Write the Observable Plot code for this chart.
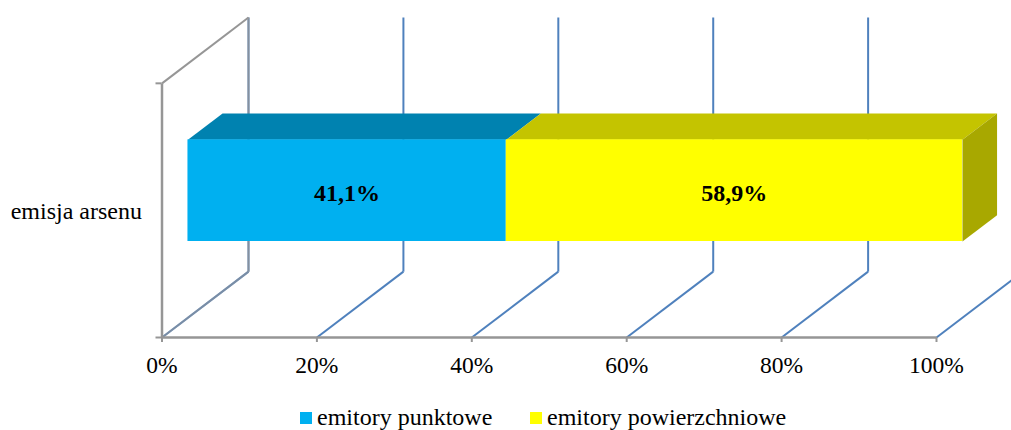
<!DOCTYPE html>
<html lang="pl">
<head>
<meta charset="utf-8">
<script src="https://cdn.jsdelivr.net/npm/d3@7"></script>
<script src="https://cdn.jsdelivr.net/npm/@observablehq/plot@0.6"></script>
<style>
  html, body { margin: 0; padding: 0; background: #fff; overflow: hidden; }
  svg { display: block; }
  #legend { position: relative; height: 35px; font: 24px "Liberation Serif", serif; color: #000; }
  .item { position: absolute; top: 8px; line-height: 28px; white-space: nowrap; }
  .sw { position: absolute; left: -17px; top: 9px; width: 12px; height: 12px; }
</style>
</head>
<body>
<div id="chart"></div>
<div id="legend"></div>
<script>
const categories = ["emisja arsenu"];
const seriesNames = ["emitory punktowe", "emitory powierzchniowe"];
const seriesValues = [41.1, 58.9];
const valueLabels = ["41,1%", "58,9%"];
const xTicks = [0, 20, 40, 60, 80, 100];

// Styles
const frontColors = ["#00b0f0", "#ffff00"];
const topColors = ["#0082b0", "#c4c400"];
const sideColor = "#a8a800";
const wallGray = "#969696";
const gridBlue = "#4f81bd";
const font = "Liberation Serif";

// Oblique projection of the 3D chart box, in data units
const depthX = 11.17, depthY = 0.259;
const px = (v, d) => v + d * depthX;
const py = (h, d) => h + d * depthY;
const barFront = 0.3, barBack = 0.7, barLow = 0.3, barHigh = 0.7;

const segments = [];
seriesValues.reduce((start, value, i) => {
  segments.push({i, start, end: start + value, label: valueLabels[i]});
  return start + value;
}, 0);

const poly = (corners, face) => corners.map(([v, h, d]) => ({x: px(v, d), y: py(h, d), face}));
const topFaces = i => {
  const s = segments[i];
  return poly([[s.start, barHigh, barFront], [s.end, barHigh, barFront], [s.end, barHigh, barBack], [s.start, barHigh, barBack]], "top" + i);
};
const endSeg = segments[segments.length - 1].end;
const sideFace = poly([[endSeg, barLow, barFront], [endSeg, barHigh, barFront], [endSeg, barHigh, barBack], [endSeg, barLow, barBack]], "side");

const plot = Plot.plot({
  width: 1011,
  height: 395,
  marginLeft: 161.5,
  marginRight: 75,
  marginTop: 17,
  marginBottom: 58,
  x: {domain: [0, 100], axis: null},
  y: {domain: [0, 1 + depthY], axis: null},
  style: {fontFamily: font, background: "#fff", color: "#000"},
  marks: [
    // floor diagonals and back wall verticals
    Plot.link(xTicks, {x1: d => d, y1: () => 0, x2: d => px(d, 1), y2: () => py(0, 1), stroke: gridBlue, strokeWidth: 2}),
    Plot.link(xTicks, {x1: d => px(d, 1), y1: () => py(0, 1), x2: d => px(d, 1), y2: () => py(1, 1), stroke: gridBlue, strokeWidth: 2}),
    // gray side wall
    Plot.link([0], {x1: d => d, y1: () => 0, x2: d => px(d, 1), y2: () => py(0, 1), stroke: wallGray, strokeWidth: 2, strokeOpacity: 0.6}),
    Plot.link([0], {x1: d => px(d, 1), y1: () => py(0, 1), x2: d => px(d, 1), y2: () => py(1, 1), stroke: wallGray, strokeWidth: 2, strokeOpacity: 0.75}),
    Plot.link([0], {x1: d => d, y1: () => 1, x2: d => px(d, 1), y2: () => py(1, 1), stroke: wallGray, strokeWidth: 2}),
    Plot.link([0], {x1: d => d, y1: () => 0, x2: d => d, y2: () => 1, stroke: wallGray, strokeWidth: 2.5}),
    Plot.link([0], {x1: d => d, y1: () => 0, x2: () => 100, y2: () => 0, stroke: wallGray, strokeWidth: 2.5}),
    // axes
    Plot.axisY([0, 1], {tickSize: 6, tickFormat: () => "", stroke: wallGray, strokeWidth: 2, label: null}),
    Plot.axisX(xTicks, {
      tickSize: 5, tickPadding: 14, tickFormat: d => d + "%", fontSize: 23.5,
      stroke: wallGray, strokeWidth: 2, fill: "#000", label: null
    }),
    Plot.text(categories, {x: () => 0, y: () => 0.5, text: d => d, textAnchor: "end", dx: -20, dy: 1, fontSize: 24, fill: "#000"}),
    // bar: top, side and front faces
    Plot.line(topFaces(0), {x: "x", y: "y", z: "face", fill: topColors[0], stroke: null}),
    Plot.line(topFaces(1), {x: "x", y: "y", z: "face", fill: topColors[1], stroke: null}),
    Plot.line(sideFace, {x: "x", y: "y", z: "face", fill: sideColor, stroke: null}),
    Plot.rect([segments[0]], {x1: d => px(d.start, barFront), x2: d => px(d.end, barFront), y1: () => py(barLow, barFront), y2: () => py(barHigh, barFront), fill: frontColors[0]}),
    Plot.rect([segments[1]], {x1: d => px(d.start, barFront), x2: d => px(d.end, barFront), y1: () => py(barLow, barFront), y2: () => py(barHigh, barFront), fill: frontColors[1]}),
    Plot.text(segments, {
      x: d => px((d.start + d.end) / 2, barFront), y: () => py(0.5, barFront),
      text: "label", fontSize: 24, fontWeight: "bold", fill: "#000", dy: 3
    })
  ]
});
document.getElementById("chart").appendChild(plot);

const legend = document.getElementById("legend");
const legendLeft = [317, 547];
seriesNames.forEach((name, i) => {
  const item = document.createElement("div");
  item.className = "item";
  item.style.left = legendLeft[i] + "px";
  item.textContent = name;
  const sw = document.createElement("span");
  sw.className = "sw";
  sw.style.background = frontColors[i];
  item.appendChild(sw);
  legend.appendChild(item);
});
</script>
</body>
</html>
